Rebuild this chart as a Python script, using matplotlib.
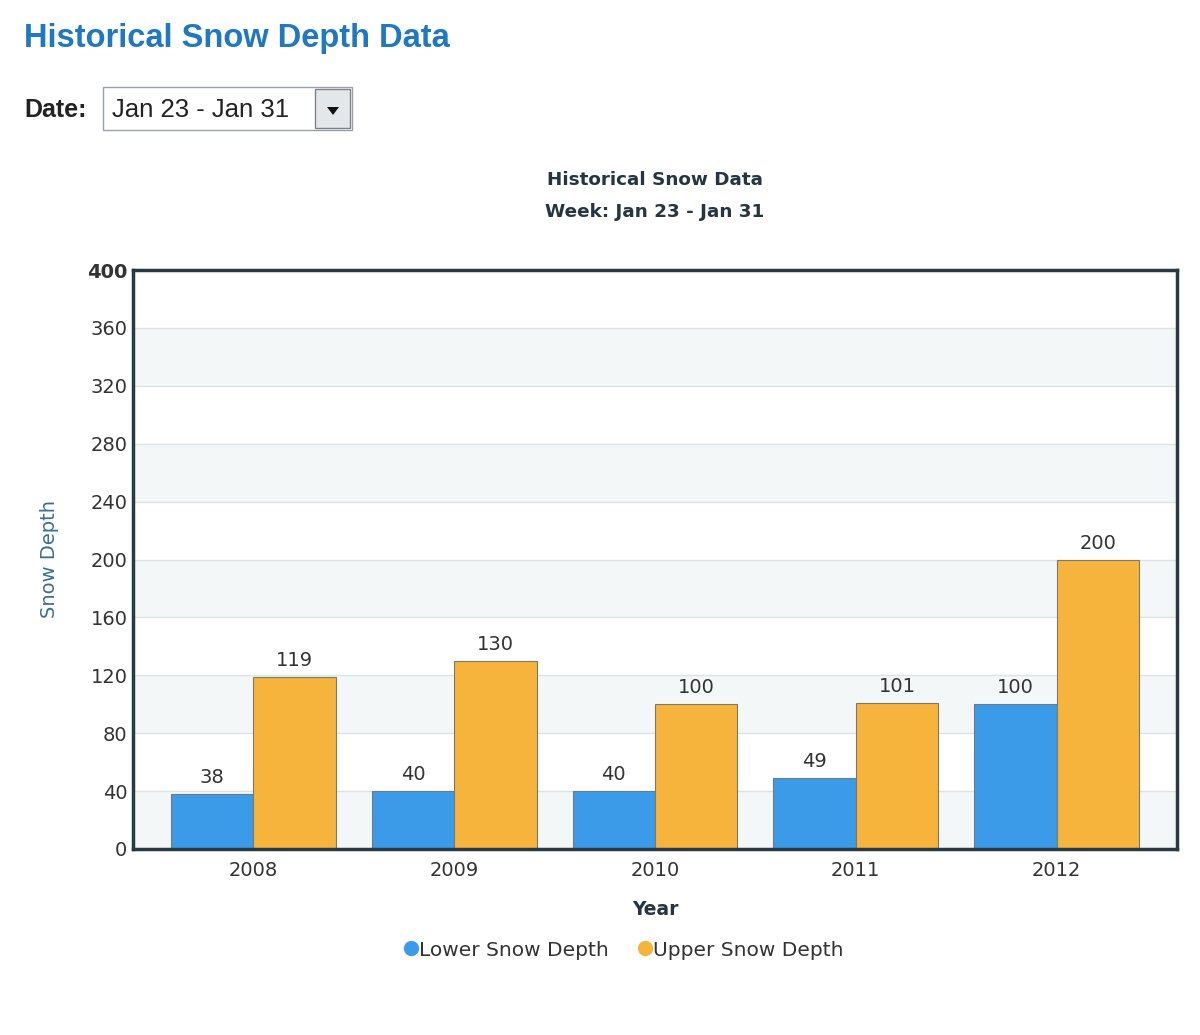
import matplotlib
matplotlib.use("Agg")
import matplotlib.pyplot as plt
from matplotlib.patches import Rectangle, Polygon
from matplotlib.lines import Line2D
import numpy as np

plt.rcParams["font.family"] = ["DejaVu Sans"]

years = ["2008", "2009", "2010", "2011", "2012"]
lower = [38, 40, 40, 49, 100]
upper = [119, 130, 100, 101, 200]
series_names = ["Lower Snow Depth", "Upper Snow Depth"]
yticks = [0, 40, 80, 120, 160, 200, 240, 280, 320, 360, 400]

W, H = 1200, 1035
fig = plt.figure(figsize=(W / 100, H / 100), dpi=100)
fig.patch.set_facecolor("white")

def fx(px):
    return px / W

def fy(py):
    return 1 - py / H

BLUE = "#3c9be8"
ORANGE = "#f6b43d"

# page header
fig.text(fx(24), fy(39), "Historical Snow Depth Data", fontsize=23.5, fontweight="bold",
         color="#1f78c0", family="Liberation Sans", va="center", ha="left")
fig.text(fx(24), fy(110), "Date:", fontsize=18, fontweight="bold", color="#222222",
         family="Liberation Sans", va="center", ha="left")
fig.add_artist(Rectangle((fx(103), fy(130)), fx(249), 43 / H, transform=fig.transFigure,
                         facecolor="white", edgecolor="#9aa0a6", lw=1))
fig.text(fx(112), fy(110), "Jan 23 - Jan 31", fontsize=18.5, color="#222222",
         family="Liberation Sans", va="center", ha="left")
fig.add_artist(Rectangle((fx(315), fy(128)), fx(35), 39 / H, transform=fig.transFigure,
                         facecolor="#e4e7ea", edgecolor="#7d848a", lw=1))
fig.add_artist(Polygon([(fx(327), fy(107)), (fx(339), fy(107)), (fx(333), fy(115))],
                       closed=True, transform=fig.transFigure, facecolor="#111111",
                       edgecolor="none"))

# chart titles
fig.text(fx(655), fy(180), "Historical Snow Data", fontsize=13.2, fontweight="bold",
         color="#253640", ha="center", va="center")
fig.text(fx(655), fy(212), "Week: Jan 23 - Jan 31", fontsize=13.2, fontweight="bold",
         color="#253640", ha="center", va="center")

ax = fig.add_axes([fx(133), fy(849), fx(1177 - 133), (849 - 270) / H])
ax.set_facecolor("white")
x = np.arange(len(years))
bw = 0.41

ax.set_xlim(-0.6, len(years) - 0.4)
ax.set_ylim(0, 400)

# alternating bands and grid lines
for i in range(len(yticks) - 1):
    if i % 2 == 0:
        ax.axhspan(yticks[i], yticks[i + 1], facecolor="#f4f7f8", edgecolor="none", zorder=0)
for t in yticks[1:-1]:
    ax.axhline(t, color="#dbe3e7", lw=1, zorder=0.5)

b1 = ax.bar(x - bw / 2, lower, bw, color=BLUE, edgecolor="#6b7b86", lw=0.8,
            zorder=2, label=series_names[0])
b2 = ax.bar(x + bw / 2, upper, bw, color=ORANGE, edgecolor="#7a7a6a", lw=0.8,
            zorder=2, label=series_names[1])

for bars, vals in ((b1, lower), (b2, upper)):
    for rect, v in zip(bars, vals):
        ax.annotate(str(v), (rect.get_x() + rect.get_width() / 2, v), xytext=(0, 5),
                    textcoords="offset points", ha="center", va="bottom",
                    fontsize=14, color="#333333")

ax.set_yticks(yticks)
ax.set_yticklabels([str(t) for t in yticks], fontsize=14, color="#333333")
ax.get_yticklabels()[-1].set_fontweight("bold")
ax.set_xticks(x)
ax.set_xticklabels(years, fontsize=14, color="#333333")
ax.tick_params(axis="both", length=0)
ax.tick_params(axis="x", pad=9)
ax.tick_params(axis="y", pad=4)

for s in ax.spines.values():
    s.set_color("#2a3a44")
    s.set_linewidth(2.5)

ax.set_ylabel("Snow Depth", fontsize=14, color="#3a6f90", labelpad=20)
ax.set_xlabel("Year", fontsize=13.5, fontweight="bold", color="#253640", labelpad=14)

handles = [Line2D([], [], marker="o", linestyle="none", markersize=11,
                  markerfacecolor=c, markeredgecolor="none") for c in (BLUE, ORANGE)]
leg = fig.legend(handles=handles, labels=series_names, loc="center",
                 bbox_to_anchor=(fx(624), fy(950)), ncol=2, frameon=False,
                 fontsize=14.5, handlelength=0.6, handletextpad=0.1,
                 columnspacing=1.5)
for txt in leg.get_texts():
    txt.set_color("#333333")

fig.savefig("out.png", dpi=100)
